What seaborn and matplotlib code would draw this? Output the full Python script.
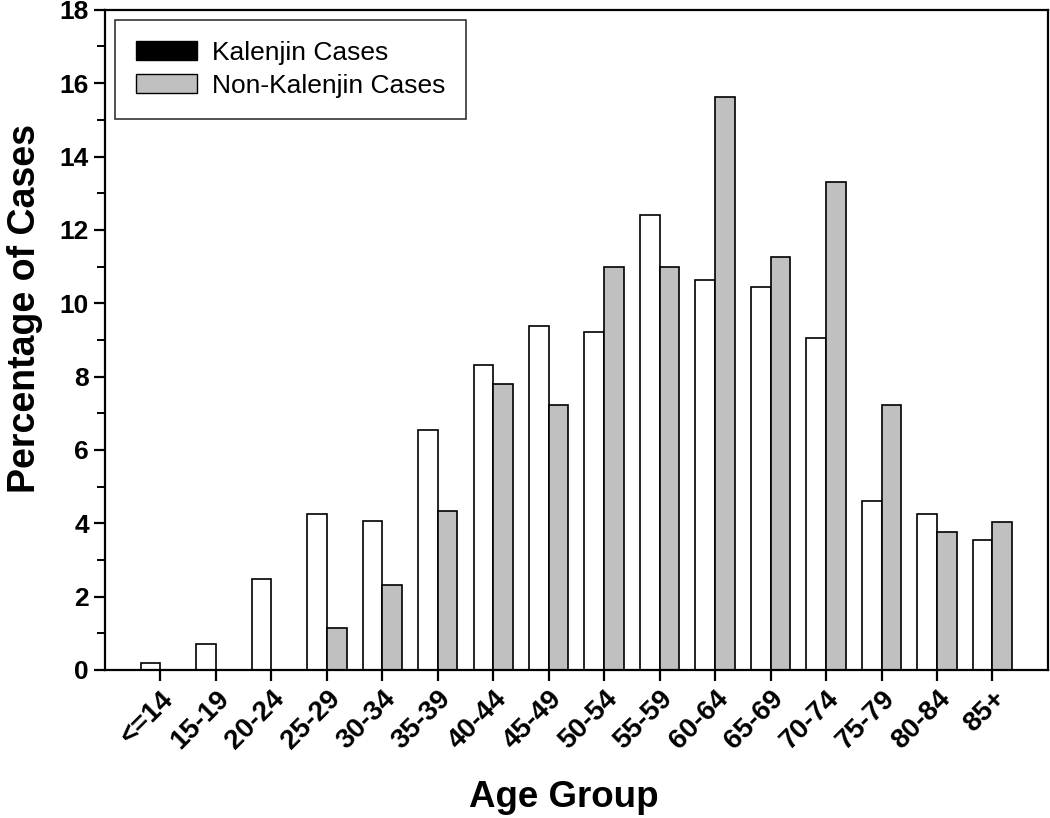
import pandas as pd
import seaborn as sns
import matplotlib.pyplot as plt
from matplotlib.patches import Patch
from matplotlib.ticker import MultipleLocator

age_groups = ["<=14", "15-19", "20-24", "25-29", "30-34", "35-39", "40-44", "45-49",
              "50-54", "55-59", "60-64", "65-69", "70-74", "75-79", "80-84", "85+"]
kalenjin = [0.18, 0.70, 2.47, 4.25, 4.07, 6.55, 8.32, 9.38,
            9.21, 12.40, 10.63, 10.45, 9.04, 4.61, 4.25, 3.54]
non_kalenjin = [0.0, 0.0, 0.0, 1.15, 2.31, 4.34, 7.80, 7.23,
                10.98, 10.98, 15.62, 11.27, 13.30, 7.22, 3.76, 4.04]

df = pd.DataFrame({
    "age": age_groups * 2,
    "pct": kalenjin + non_kalenjin,
    "group": ["Kalenjin Cases"] * len(age_groups) + ["Non-Kalenjin Cases"] * len(age_groups),
})

sns.set_style("ticks")
plt.rcParams['font.family'] = ['Liberation Sans', 'DejaVu Sans']
plt.rcParams['text.color'] = 'black'
plt.rcParams['axes.labelcolor'] = 'black'
plt.rcParams['xtick.color'] = 'black'
plt.rcParams['ytick.color'] = 'black'
plt.rcParams['axes.edgecolor'] = 'black'

fig = plt.figure(figsize=(10.5, 8.18), dpi=100)
ax = fig.add_axes([0.1, 0.181, 0.898, 0.807])

sns.barplot(data=df, x="age", y="pct", hue="group", order=age_groups,
            palette=["white", "#c0c0c0"], edgecolor="black", linewidth=1.2,
            width=0.71, gap=0, ax=ax, legend=False)

ax.set_xlim(-1, 16)
ax.set_ylim(0, 18)
ax.yaxis.set_major_locator(MultipleLocator(2))
ax.yaxis.set_minor_locator(MultipleLocator(1))

for s in ax.spines.values():
    s.set_linewidth(1.6)
    s.set_visible(True)
ax.tick_params(axis="both", which="major", length=8, width=1.6, direction="out")
ax.tick_params(axis="y", which="minor", length=6, width=1.4, direction="out")

plt.setp(ax.get_yticklabels(), fontsize=19, weight="bold")
plt.setp(ax.get_xticklabels(), fontsize=20, weight="bold", rotation=45,
         ha="right", rotation_mode="anchor")

ax.set_xlabel("Age Group", fontsize=26.5, weight="bold")
ax.set_ylabel("Percentage of Cases", fontsize=27, weight="bold", labelpad=12)
ax.xaxis.set_label_coords(0.487, -0.166)
ax.yaxis.label.set_y(0.548)

handles = [Patch(facecolor="black", edgecolor="black", label="Kalenjin Cases"),
           Patch(facecolor="#c0c0c0", edgecolor="black", label="Non-Kalenjin Cases")]
leg = ax.legend(handles=handles, loc="upper left", bbox_to_anchor=(0.011, 0.985),
                fontsize=19, frameon=True, fancybox=False, edgecolor="black",
                handlelength=2.3, handleheight=0.72, borderpad=0.8, labelspacing=0.35,
                handletextpad=0.55, borderaxespad=0)
leg.get_frame().set_linewidth(1.2)

plt.savefig("out.png", dpi=100)
